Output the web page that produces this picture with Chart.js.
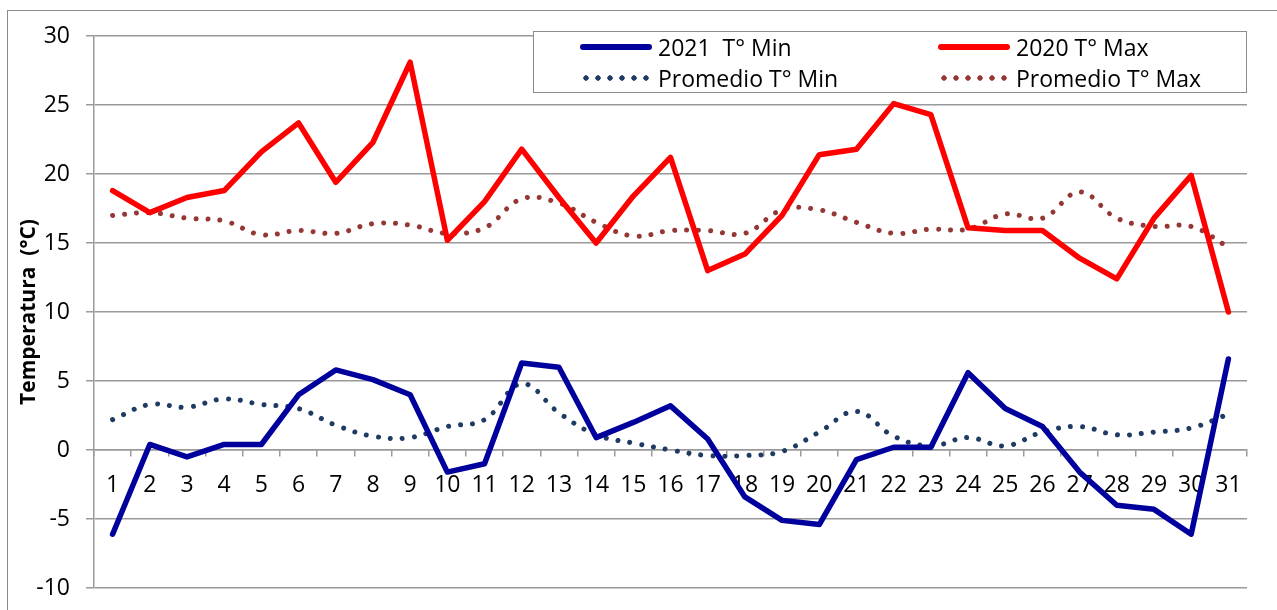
<!DOCTYPE html>
<html><head><meta charset="utf-8">
<script src="https://cdn.jsdelivr.net/npm/chart.js@4.4.0/dist/chart.umd.min.js"></script>
<style>
html,body{margin:0;padding:0;background:#fff;overflow:hidden;width:1277px;height:610px}
#frame{position:absolute;left:7px;top:10px;width:1300px;height:700px;border:1px solid #8c8c8c;box-sizing:border-box}
#c{position:absolute;left:0;top:0}
#legend{position:absolute;left:533px;top:31px;width:714px;height:62px;border:1px solid #8c8c8c;box-sizing:border-box;font-family:'Open Sans',sans-serif;font-size:23px;color:#000;background:#fff}
.item{position:absolute;display:flex;align-items:center;height:30px;white-space:pre}
.sw{width:72px;height:6px;margin-right:6px;flex:none}
</style></head><body>
<div id="frame"></div>
<canvas id="c" width="1277" height="610"></canvas>
<div id="legend"></div>
<script>
const days = ['1','2','3','4','5','6','7','8','9','10','11','12','13','14','15','16','17','18','19','20','21','22','23','24','25','26','27','28','29','30','31'];
const min2021 = [-6.1,0.4,-0.5,0.4,0.4,4.0,5.8,5.1,4.0,-1.6,-1.0,6.3,6.0,0.9,2.0,3.2,0.8,-3.4,-5.1,-5.4,-0.7,0.2,0.2,5.6,3.0,1.7,-1.6,-4.0,-4.3,-6.1,6.6];
const max2020 = [18.8,17.2,18.3,18.8,21.6,23.7,19.4,22.3,28.1,15.2,18.0,21.8,18.3,15.0,18.4,21.2,13.0,14.2,17.0,21.4,21.8,25.1,24.3,16.1,15.9,15.9,13.9,12.4,16.8,19.9,10.0];
const promMin = [2.2,3.3,3.1,3.7,3.3,3.0,1.8,1.0,0.9,1.7,2.2,4.8,2.7,1.1,0.5,0.0,-0.4,-0.4,-0.1,1.3,2.8,1.0,0.3,0.9,0.3,1.3,1.7,1.1,1.3,1.6,2.6];
const promMax = [17.0,17.2,16.8,16.6,15.6,15.9,15.7,16.4,16.3,15.7,16.1,18.2,17.9,16.5,15.5,15.9,15.9,15.7,17.4,17.4,16.5,15.7,16.0,16.0,17.1,16.8,18.7,16.8,16.2,16.2,14.7];
const seriesNames = ['2021  T° Min','2020 T° Max','Promedio T° Min','Promedio T° Max'];
const yTicks = {min:-10, max:30, step:5};
const yTitle = 'Temperatura  (°C)';

const FONT = "'Open Sans', sans-serif";
const GRID = '#9a9a9a';

const htmlLegend = {
  id:'htmlLegend',
  afterInit(chart){
    const box = document.getElementById('legend');
    box.innerHTML='';
    const pos = [[46,0],[404,0],[46,31],[404,31]];
    chart.data.datasets.forEach((ds,i)=>{
      const it = document.createElement('div');
      it.className='item';
      it.style.left = pos[i][0]+'px';
      it.style.top = pos[i][1]+'px';
      const sw = document.createElement('div');
      sw.className='sw';
      if (ds.borderDash && ds.borderDash.length){
        sw.style.backgroundImage = 'radial-gradient(circle, '+ds.borderColor+' 2.4px, transparent 3px)';
        sw.style.backgroundSize = '12px 6px';
        sw.style.backgroundPosition = '0 0';
      } else {
        sw.style.background = ds.borderColor;
        sw.style.borderRadius = '3px';
      }
      const tx = document.createElement('span');
      tx.textContent = ds.label;
      it.appendChild(sw); it.appendChild(tx);
      box.appendChild(it);
    });
  }
};

new Chart(document.getElementById('c'), {
  type:'line',
  data:{
    labels: days,
    datasets:[
      {label:seriesNames[0], data:min2021, borderColor:'#00009c', borderWidth:5.5, tension:0, pointRadius:0, borderJoinStyle:'round', borderCapStyle:'round'},
      {label:seriesNames[1], data:max2020, borderColor:'#ff0000', borderWidth:5.5, tension:0, pointRadius:0, borderJoinStyle:'round', borderCapStyle:'round'},
      {label:seriesNames[2], data:promMin, borderColor:'#1f3b63', borderWidth:5, borderDash:[0.01,12], borderCapStyle:'round', tension:0.4, pointRadius:0},
      {label:seriesNames[3], data:promMax, borderColor:'#953735', borderWidth:5, borderDash:[0.01,12], borderCapStyle:'round', tension:0.4, pointRadius:0}
    ]
  },
  options:{
    responsive:false, animation:false, devicePixelRatio:1,
    layout:{padding:{top:36, right:30, bottom:22, left:0}},
    plugins:{legend:{display:false}, tooltip:{enabled:false}},
    scales:{
      x:{
        type:'category',
        position:{y:0},
        offset:true,
        grid:{display:true, drawOnChartArea:false, drawTicks:true, tickLength:6, color:GRID, lineWidth:1.5, offset:true},
        border:{display:true, color:GRID, width:1.5},
        ticks:{font:{family:FONT, size:23}, color:'#000', padding:16, maxRotation:0, autoSkip:false}
      },
      y:{
        min:yTicks.min, max:yTicks.max,
        afterFit(s){ s.width = 94; s.paddingTop = 8; s.paddingBottom = 8; },
        grid:{color:GRID, lineWidth:1.5, tickLength:8},
        border:{color:GRID, width:1.5},
        ticks:{stepSize:yTicks.step, font:{family:FONT, size:23}, color:'#000', padding:16},
        title:{display:true, text:yTitle, font:{family:FONT, size:21, weight:'bold'}, color:'#000', padding:{top:16, bottom:0}}
      }
    }
  },
  plugins:[htmlLegend]
});
</script>
</body></html>
